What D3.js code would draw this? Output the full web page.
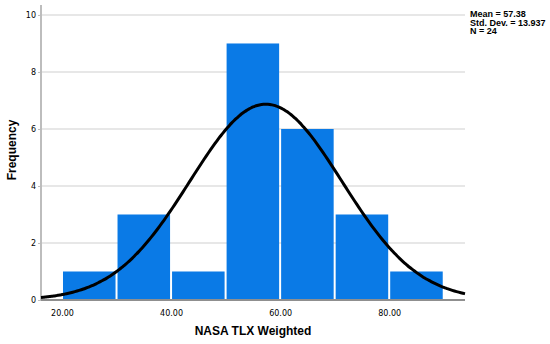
<!DOCTYPE html>
<html>
<head>
<meta charset="utf-8">
<script src="https://cdn.jsdelivr.net/npm/d3@7"></script>
<style>
  body { margin: 0; background: #fff; }
  text { font-family: "Liberation Sans", Arial, sans-serif; }
</style>
</head>
<body>
<svg id="chart" width="550" height="344"></svg>
<script>
// histogram bins (lower edge) and counts
const binStarts = [20, 30, 40, 50, 60, 70, 80];
const counts = [1, 3, 1, 9, 6, 3, 1];
const binWidth = 10;
const xTicks = [20, 40, 60, 80];
const yTicks = [0, 2, 4, 6, 8, 10];
const mean = 57.38, sd = 13.937, n = 24;
const statLines = ["Mean = 57.38", "Std. Dev. = 13.937", "N = 24"];

const svg = d3.select("#chart");
const plotL = 41, plotR = 465, plotT = 5, plotB = 300;

const x = d3.scaleLinear().domain([16.15, 93.9]).range([plotL, plotR]);
const y = d3.scaleLinear().domain([0, 10.35]).range([plotB, plotT]);

// gridlines
svg.append("g")
  .selectAll("line")
  .data(yTicks.filter(d => d > 0))
  .join("line")
    .attr("x1", plotL).attr("x2", plotR)
    .attr("y1", d => y(d)).attr("y2", d => y(d))
    .attr("stroke", "#cfcfcf")
    .attr("stroke-width", 1.2);

// bars
svg.append("g")
  .selectAll("rect")
  .data(binStarts.map((s, i) => ({ s, c: counts[i] })))
  .join("rect")
    .attr("x", d => x(d.s) + 1)
    .attr("width", d => x(d.s + binWidth) - x(d.s) - 2)
    .attr("y", d => y(d.c))
    .attr("height", d => y(0) - y(d.c))
    .attr("fill", "#0a7ae6");

// axes
const yAxis = d3.axisLeft(y).tickValues(yTicks).tickSize(3).tickFormat(d3.format("d"));
const gy = svg.append("g").attr("transform", `translate(${plotL},0)`).call(yAxis);
gy.select(".domain").attr("stroke", "#bdbdbd").attr("stroke-width", 2).attr("d", `M0,${plotT}V${plotB}`);
gy.selectAll(".tick line").attr("stroke", "#bdbdbd");
gy.selectAll(".tick text").attr("font-size", 8).attr("fill", "#000").attr("x", -5)
  .style("font-family", "DejaVu Sans, sans-serif");

const xAxis = d3.axisBottom(x).tickValues(xTicks).tickSize(0).tickFormat(d3.format(".2f"));
const gx = svg.append("g").attr("transform", `translate(0,${plotB})`).call(xAxis);
gx.select(".domain").attr("stroke", "#8f8f8f").attr("stroke-width", 2).attr("d", `M${plotL},0H${plotR}`);
gx.selectAll(".tick text").attr("font-size", 8).attr("fill", "#000").attr("dy", "1.6em")
  .style("font-family", "DejaVu Sans, sans-serif");

// normal curve scaled to counts
const scale = n * binWidth;
const curveX = d3.range(0, 201).map(i => x.domain()[0] + (x.domain()[1] - x.domain()[0]) * i / 200);
const line = d3.line()
  .x(d => x(d))
  .y(d => y(scale * Math.exp(-0.5 * ((d - mean) / sd) ** 2) / (sd * Math.sqrt(2 * Math.PI))))
  .curve(d3.curveBasis);
svg.append("path")
  .datum(curveX)
  .attr("d", line)
  .attr("fill", "none")
  .attr("stroke", "#000")
  .attr("stroke-width", 3);

// axis titles
svg.append("text")
  .attr("x", 253).attr("y", 335)
  .attr("text-anchor", "middle")
  .attr("font-size", 12).attr("font-weight", "bold")
  .text("NASA TLX Weighted");

svg.append("text")
  .attr("transform", "translate(16,150) rotate(-90)")
  .attr("text-anchor", "middle")
  .attr("font-size", 12).attr("font-weight", "bold")
  .text("Frequency");

// stats box
svg.append("g")
  .selectAll("text")
  .data(statLines)
  .join("text")
    .attr("x", 470)
    .attr("y", (d, i) => 17 + i * 8.5)
    .attr("font-size", 9).attr("font-weight", "bold")
    .text(d => d);
</script>
</body>
</html>
